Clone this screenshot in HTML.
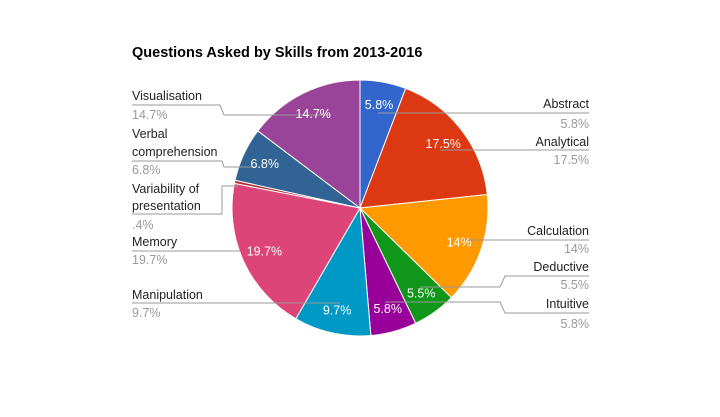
<!DOCTYPE html>
<html><head><style>
html,body{margin:0;padding:0;background:#fff;}
svg{display:block;font-family:"Liberation Sans",Arial,sans-serif;}
</style></head><body>
<svg id="s" width="720" height="417" xmlns="http://www.w3.org/2000/svg">
<rect width="720" height="417" fill="#fff"/>
<text x="132" y="57" font-size="14.5" font-weight="bold" fill="#000">Questions Asked by Skills from 2013-2016</text>
<g id="pie"></g>
<g stroke="#999" stroke-width="1" fill="none">
<polyline points="132,105 220,105 224,115 330,115"/>
<polyline points="132,161 222,161 224,167 255,167"/>
<polyline points="132,214 222,214 222,186 238,186"/>
<polyline points="132,251 240,251"/>
<polyline points="132,303 250,303 258,303 340,303"/>
<polyline points="378,113 589,113"/>
<polyline points="440,150 589,150"/>
<polyline points="462,240 589,240"/>
<polyline points="420,287 500,287 505,276 589,276"/>
<polyline points="385,302 500,302 505,313 589,313"/>
</g>
<g font-size="12.5" fill="#222">
<text x="132" y="100">Visualisation</text>
<text x="132" y="138">Verbal</text>
<text x="132" y="156">comprehension</text>
<text x="132" y="193">Variability of</text>
<text x="132" y="210">presentation</text>
<text x="132" y="246">Memory</text>
<text x="132" y="299">Manipulation</text>
<g text-anchor="end">
<text x="589" y="108">Abstract</text>
<text x="589" y="146">Analytical</text>
<text x="589" y="235">Calculation</text>
<text x="589" y="271">Deductive</text>
<text x="589" y="308">Intuitive</text>
</g>
</g>
<g font-size="12.5" fill="#999">
<text x="132" y="119">14.7%</text>
<text x="132" y="174">6.8%</text>
<text x="132" y="229">.4%</text>
<text x="132" y="264">19.7%</text>
<text x="132" y="317">9.7%</text>
<g text-anchor="end">
<text x="589" y="128">5.8%</text>
<text x="589" y="164">17.5%</text>
<text x="589" y="253">14%</text>
<text x="589" y="289">5.5%</text>
<text x="589" y="328">5.8%</text>
</g>
</g>
<g id="lbl" font-size="12.5" fill="#fff" text-anchor="middle"></g>
</svg>
<script>
var d=[[5.8,"#3366cc","5.8%"],[17.5,"#dc3912","17.5%"],[14,"#ff9900","14%"],[5.5,"#109618","5.5%"],[5.8,"#990099","5.8%"],[9.7,"#0099c6","9.7%"],[19.7,"#dd4477","19.7%"],[0.4,"#b82e2e",""],[6.8,"#316395","6.8%"],[14.7,"#994499","14.7%"]];
var tot=0;d.forEach(function(x){tot+=x[0]});
var cx=360,cy=208,r=128,a=0,ns="http://www.w3.org/2000/svg",g=document.getElementById("pie"),L=document.getElementById("lbl");
d.forEach(function(x){
var a2=a+x[0]/tot*2*Math.PI;
var x1=cx+r*Math.sin(a),y1=cy-r*Math.cos(a),x2=cx+r*Math.sin(a2),y2=cy-r*Math.cos(a2);
var p=document.createElementNS(ns,"path");
p.setAttribute("d","M"+cx+","+cy+"L"+x1+","+y1+"A"+r+","+r+" 0 "+((a2-a)>Math.PI?1:0)+" 1 "+x2+","+y2+"Z");
p.setAttribute("fill",x[1]);p.setAttribute("stroke","#fff");p.setAttribute("stroke-width","1");
g.appendChild(p);
if(x[2]){var m=(a+a2)/2,t=document.createElementNS(ns,"text");
t.setAttribute("x",cx+r*0.82*Math.sin(m));t.setAttribute("y",cy-r*0.82*Math.cos(m)+4);
t.textContent=x[2];L.appendChild(t);}
a=a2;});
</script>
</body></html>
